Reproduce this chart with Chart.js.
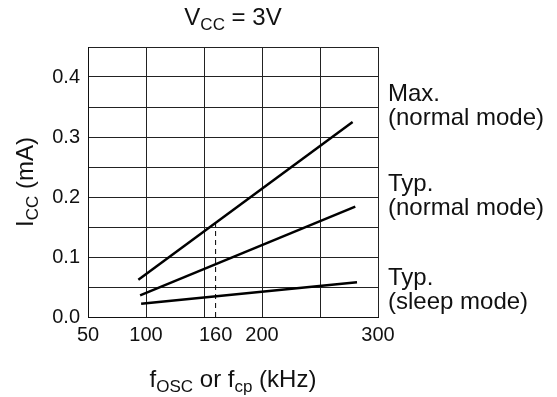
<!DOCTYPE html>
<html>
<head>
<meta charset="utf-8">
<script src="https://cdn.jsdelivr.net/npm/chart.js@4"></script>
<style>
  html, body { margin: 0; padding: 0; background: #fff; }
  #wrap { width: 557px; height: 397px; }
</style>
</head>
<body>
<div id="wrap"><canvas id="chart"></canvas></div>
<script>
'use strict'

/* global Chart */

// frequency axis (kHz)
const xGrid = [50, 100, 150, 200, 250, 300]
const xLabelValues = [50, 100, 160, 200, 300]
const xLabels = ['50', '100', '160', '200', '300']

// current axis (mA)
const yGrid = [0, 0.05, 0.1, 0.15, 0.2, 0.25, 0.3, 0.35, 0.4, 0.45]
const yLabelValues = [0, 0.1, 0.2, 0.3, 0.4]
const yLabels = ['0.0', '0.1', '0.2', '0.3', '0.4']

// curves, start and end point
const maxNormalFreq = [93.4, 278.1]
const maxNormalIcc = [0.062, 0.325]
const typNormalFreq = [94.9, 280.4]
const typNormalIcc = [0.036, 0.184]
const typSleepFreq = [95.8, 281.9]
const typSleepIcc = [0.022, 0.058]

// dashed 160 kHz marker, up to the max curve
const markerFreq = [160, 160]
const markerIcc = [0, 0.155]

const curveNames = [
  ['Max.', '(normal mode)'],
  ['Typ.', '(normal mode)'],
  ['Typ.', '(sleep mode)']
]

const FONT = "'Liberation Sans', Arial, Helvetica, sans-serif"

function toPoints (xs, ys) {
  return xs.map((x, i) => ({ x: x, y: ys[i] }))
}

function curve (label, xs, ys) {
  return {
    label: label,
    data: toPoints(xs, ys),
    borderColor: '#000',
    borderWidth: 2.5,
    pointRadius: 0,
    tension: 0,
    fill: false
  }
}

// text with subscripts: parts = [[text, isSub], ...]
function drawParts (ctx, parts, cx, baseline) {
  const big = '24px ' + FONT
  const small = '17px ' + FONT
  let total = 0
  parts.forEach(p => {
    ctx.font = p[1] ? small : big
    total += ctx.measureText(p[0]).width
  })
  let x = cx - total / 2
  parts.forEach(p => {
    ctx.font = p[1] ? small : big
    ctx.fillText(p[0], x, p[1] ? baseline + 5 : baseline)
    x += ctx.measureText(p[0]).width
  })
}

const textPlugin = {
  id: 'texts',
  afterDraw (chart) {
    const ctx = chart.ctx
    const area = chart.chartArea
    const y = chart.scales.y
    const cx = (area.left + area.right) / 2
    const cy = (area.top + area.bottom) / 2

    ctx.save()
    ctx.fillStyle = '#111'
    ctx.textAlign = 'left'
    ctx.textBaseline = 'alphabetic'

    drawParts(ctx, [['V', 0], ['CC', 1], [' = 3V', 0]], cx, 25)
    drawParts(ctx, [['f', 0], ['OSC', 1], [' or f', 0], ['cp', 1], [' (kHz)', 0]], cx, 387)

    ctx.save()
    ctx.translate(33, cy)
    ctx.rotate(-Math.PI / 2)
    drawParts(ctx, [['I', 0], ['CC', 1], [' (mA)', 0]], 0, 0)
    ctx.restore()

    // curve names to the right of the plot
    const anchors = [0.3595, 0.21, 0.0528]
    ctx.font = '24px ' + FONT
    curveNames.forEach((lines, i) => {
      const top = y.getPixelForValue(anchors[i])
      lines.forEach((line, j) => {
        ctx.fillText(line, area.right + 10, top + j * 24)
      })
    })
    ctx.restore()
  }
}

const chart = new Chart(document.getElementById('chart'), {
  type: 'line',
  data: {
    datasets: [
      curve('Max. (normal mode)', maxNormalFreq, maxNormalIcc),
      curve('Typ. (normal mode)', typNormalFreq, typNormalIcc),
      curve('Typ. (sleep mode)', typSleepFreq, typSleepIcc),
      {
        label: '160 kHz',
        data: toPoints(markerFreq, markerIcc),
        borderColor: '#000',
        borderWidth: 1,
        borderDash: [5, 4],
        pointRadius: 0,
        fill: false
      }
    ]
  },
  options: {
    responsive: true,
    maintainAspectRatio: false,
    animation: false,
    devicePixelRatio: 1,
    layout: {
      padding: { left: 0, top: 47, right: 179, bottom: 0 }
    },
    plugins: {
      legend: { display: false },
      title: { display: false },
      tooltip: { enabled: false }
    },
    scales: {
      x: {
        type: 'linear',
        min: 50,
        max: 300,
        afterFit: (scale) => { scale.height = 80 },
        afterBuildTicks: (scale) => {
          const vals = Array.from(new Set(xGrid.concat(xLabelValues))).sort((a, b) => a - b)
          scale.ticks = vals.map(v => ({ value: v }))
        },
        grid: {
          drawTicks: false,
          lineWidth: 1,
          color: (ctx) => (xGrid.indexOf(ctx.tick.value) >= 0 ? '#222' : 'rgba(0,0,0,0)')
        },
        border: { display: true, color: '#111', width: 1 },
        ticks: {
          autoSkip: false,
          maxRotation: 0,
          padding: 6,
          color: '#111',
          font: { family: FONT, size: 20 },
          callback: (value) => {
            const i = xLabelValues.indexOf(value)
            return i >= 0 ? xLabels[i] : ''
          }
        }
      },
      y: {
        type: 'linear',
        min: 0,
        max: 0.45,
        afterFit: (scale) => { scale.width = 88 },
        afterBuildTicks: (scale) => {
          scale.ticks = yGrid.map(v => ({ value: v }))
        },
        grid: { drawTicks: false, lineWidth: 1, color: '#222' },
        border: { display: true, color: '#111', width: 1 },
        ticks: {
          autoSkip: false,
          padding: 8,
          color: '#111',
          font: { family: FONT, size: 20 },
          callback: (value) => {
            const i = yLabelValues.findIndex(v => Math.abs(v - value) < 1e-9)
            return i >= 0 ? yLabels[i] : ''
          }
        }
      }
    }
  },
  plugins: [textPlugin]
})
</script>
</body>
</html>
